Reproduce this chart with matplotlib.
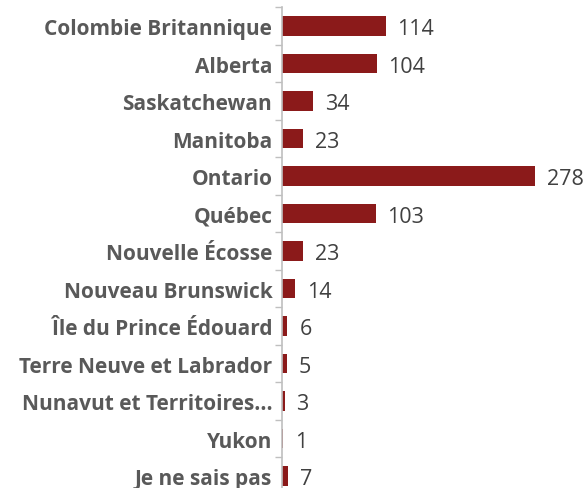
import matplotlib.pyplot as plt
import numpy as np

# données
provinces = ["Colombie Britannique", "Alberta", "Saskatchewan", "Manitoba",
             "Ontario", "Québec", "Nouvelle Écosse", "Nouveau Brunswick",
             "Île du Prince Édouard", "Terre Neuve et Labrador",
             "Nunavut et Territoires...", "Yukon", "Je ne sais pas"]
valeurs = [114, 104, 34, 23, 278, 103, 23, 14, 6, 5, 3, 1, 7]

fig = plt.figure(figsize=(5.83, 4.89), dpi=100)
ax = fig.add_axes([282 / 583, -0.0138, 291 / 583, 0.983 + 0.0138])

y = np.arange(len(provinces))
ax.barh(y, valeurs, height=0.52, color="#8B1A1A")
ax.set_ylim(len(provinces) - 0.5, -0.5)
ax.set_xlim(0, 320)

for yi, v in zip(y, valeurs):
    ax.text(v + 13, yi, str(v), va="center_baseline", ha="left",
            fontsize=15.5, color="#404040", family="Open Sans")

ax.set_yticks(y)
ax.set_yticklabels(provinces, fontsize=15, fontweight="bold",
                   color="#595959", family="Open Sans")
ax.tick_params(axis="y", which="major", length=0, pad=7)
ax.set_yticks(np.arange(-0.5, len(provinces), 1), minor=True)
ax.tick_params(axis="y", which="minor", length=5, color="#BFBFBF", width=1)
ax.set_xticks([])

for s in ["top", "right", "bottom"]:
    ax.spines[s].set_visible(False)
ax.spines["left"].set_color("#BFBFBF")
ax.spines["left"].set_linewidth(1.2)

fig.savefig("out.png", dpi=100)
